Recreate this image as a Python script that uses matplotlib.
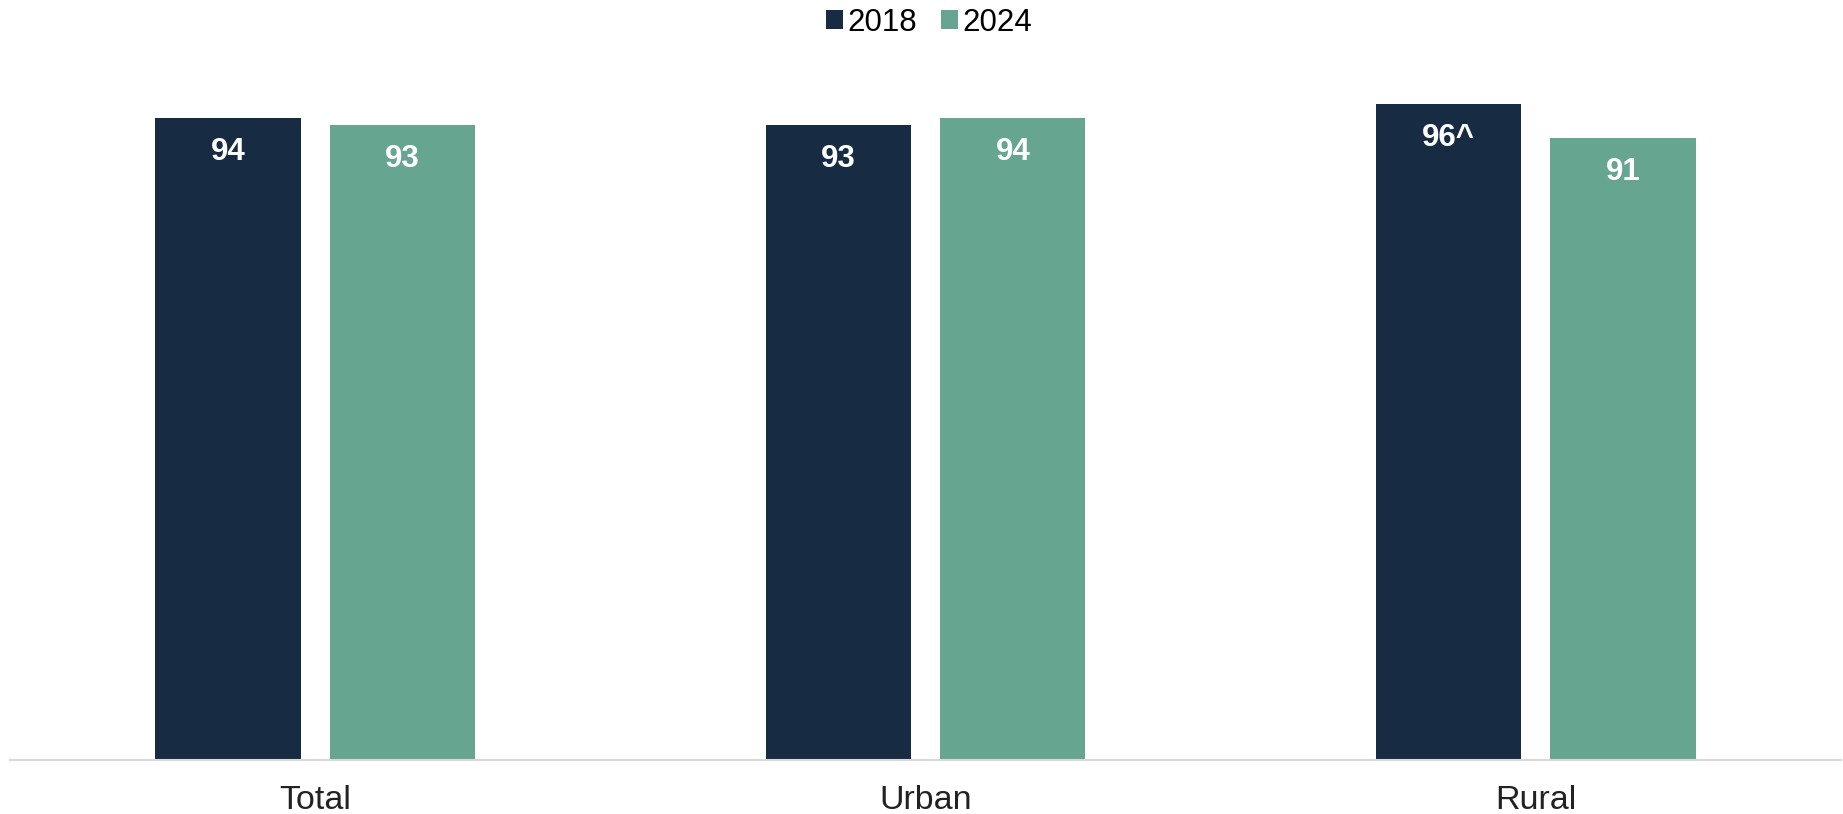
import matplotlib.pyplot as plt
import numpy as np

plt.rcParams['font.family'] = ['Liberation Sans', 'DejaVu Sans']

# data
categories = ['Total', 'Urban', 'Rural']
years = ['2018', '2024']
values_2018 = [94, 93, 96]
values_2024 = [93, 94, 91]
labels_2018 = ['94', '93', '96^']
labels_2024 = ['93', '94', '91']

colors = ['#172b43', '#66a690']

fig = plt.figure(figsize=(18.43, 8.14), dpi=100)
ax = fig.add_axes([10 / 1843, 54 / 814, 1831 / 1843, 683 / 814])

x = np.arange(len(categories))
w = 0.238
off = 0.143

b1 = ax.bar(x - off, values_2018, w, color=colors[0], label=years[0])
b2 = ax.bar(x + off, values_2024, w, color=colors[1], label=years[1])

# value labels inside the top of each bar
for bars, labs in [(b1, labels_2018), (b2, labels_2024)]:
    for bar, lab in zip(bars, labs):
        ax.annotate(lab, (bar.get_x() + bar.get_width() / 2, bar.get_height()),
                    xytext=(0, -34), textcoords='offset pixels',
                    ha='center', va='center', color='white',
                    fontsize=22.5, fontweight='bold')

ax.set_xlim(-0.5, 2.5)
ax.set_ylim(0, 100)
ax.set_xticks(x)
ax.set_xticklabels(categories, fontsize=24.5, color='#222222')
ax.tick_params(axis='x', length=0, pad=18)
ax.set_yticks([])
for s in ['top', 'right', 'left']:
    ax.spines[s].set_visible(False)
ax.spines['bottom'].set_color('#d9d9d9')
ax.spines['bottom'].set_linewidth(1.5)

fig.legend(loc='upper center', bbox_to_anchor=(0.504, 1.025), ncol=2,
           frameon=False, fontsize=22.5, handlelength=0.55, handleheight=0.55,
           handletextpad=0.15, columnspacing=0.75)

fig.savefig('out.png', dpi=100)
